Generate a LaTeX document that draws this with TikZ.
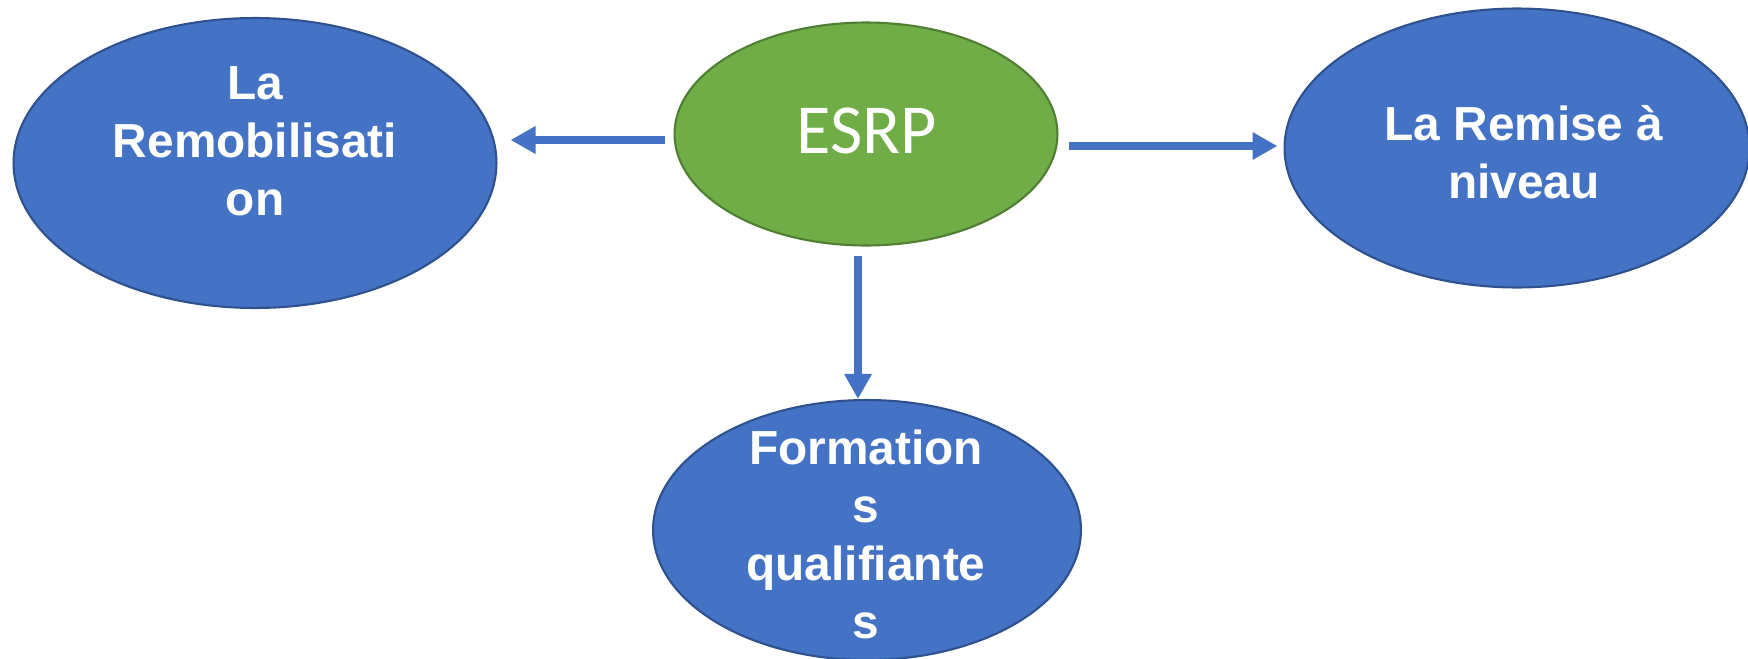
\documentclass[tikz,border=0pt]{standalone}
\usepackage{fontspec}
\setmainfont{Liberation Sans}
\newfontfamily\calibri{Carlito}
\usetikzlibrary{shapes.geometric,arrows.meta}
\definecolor{bleu}{HTML}{4472C4}
\definecolor{bleufonce}{HTML}{2F528F}
\definecolor{vert}{HTML}{70AD47}
\definecolor{vertfonce}{HTML}{507E32}
\begin{document}
\begin{tikzpicture}[x=0.02cm,y=-0.02cm,
	bulle/.style={ellipse, draw=bleufonce, fill=bleu, line width=1.2pt, inner sep=0pt},
	texte/.style={anchor=base, align=center, text=white, font=\fontsize{27.2}{33}\selectfont\bfseries},
	fleche/.style={draw=bleu, line width=4.5pt, -{Triangle[length=0.5cm,width=0.52cm]}}]
		\useasboundingbox (0,0) rectangle (1748,659);
		
		%BULLES
		\node[bulle, minimum width=9.66cm, minimum height=5.8cm] (remob) at (255,163) {};
		\node[ellipse, draw=vertfonce, fill=vert, line width=1.2pt, inner sep=0pt,
			minimum width=7.66cm, minimum height=4.46cm] (esrp) at (866,134) {};
		\node[bulle, minimum width=9.3cm, minimum height=5.58cm] (remise) at (1517,148) {};
		\node[bulle, minimum width=8.56cm, minimum height=5.2cm] (form) at (867,530) {};
		
		%TEXTES (ancre sur la derniere ligne)
		\node[texte] (remobT) at (255,215) {La\\Remobilisati\\on};
		\node[anchor=base, text=white, font=\calibri\fontsize{40}{48}\selectfont] (esrpT) at (867,153) {ESRP};
		\node[texte] (remiseT) at (1524,198) {La Remise à\\niveau};
		\node[texte] (formT) at (866,638) {Formation\\s\\qualifiante\\s};
		
		%FLECHES
		\coordinate (g) at ([xshift=-0.16cm,yshift=-0.12cm]esrp.west);
		\coordinate (d) at ([xshift=0.2cm,yshift=-0.24cm]esrp.east);
		\coordinate (b) at ([xshift=-0.16cm,yshift=-0.18cm]esrp.south);
		\draw[fleche, shorten >=0.26cm] (g) -- (g -| remob.east);
		\draw[fleche, shorten >=0.12cm] (d) -- (d -| remise.west);
		\draw[fleche] (b) -- (b |- form.north);
	\end{tikzpicture}
\end{document}
